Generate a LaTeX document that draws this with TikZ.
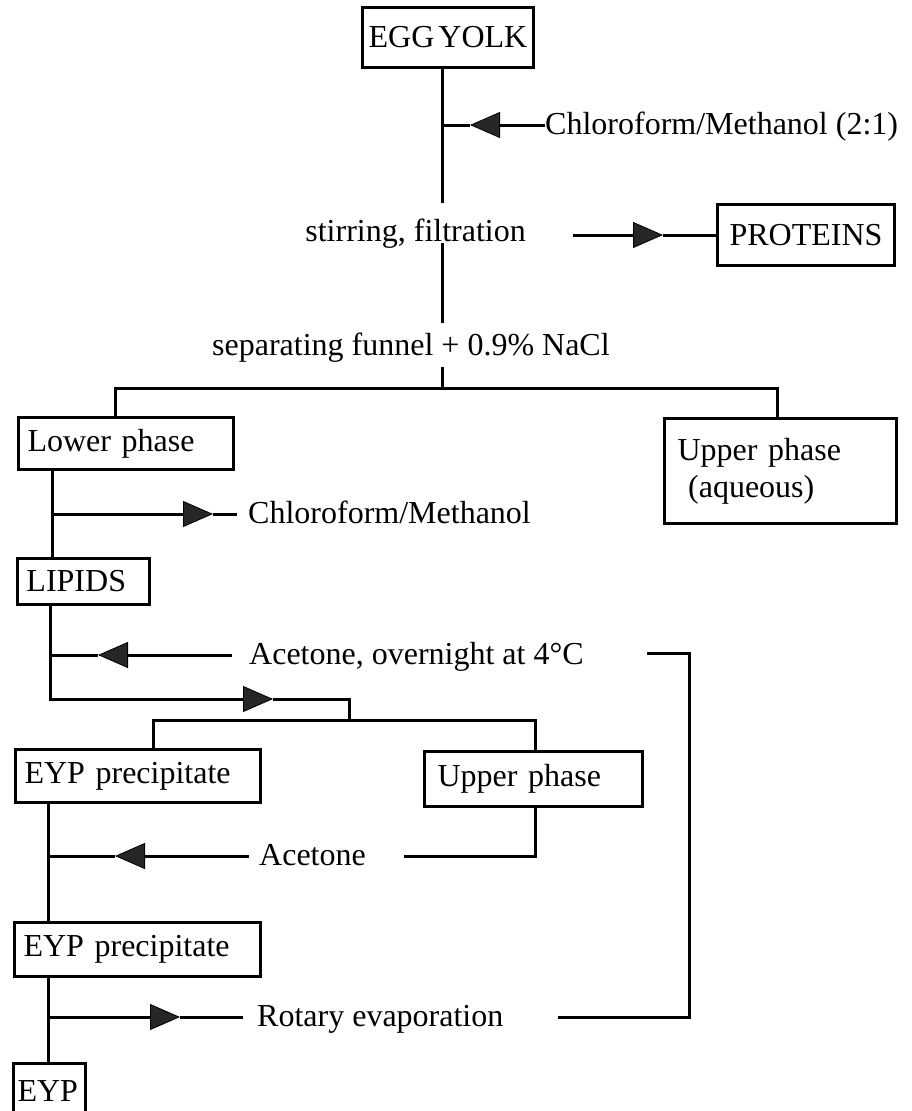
\documentclass[tikz,border=0pt]{standalone}
\usepackage{fontspec}
\setmainfont{Liberation Serif}
\usetikzlibrary{arrows.meta}

\begin{document}
\begin{tikzpicture}[x=1pt,y=-1pt,
    every node/.style={font=\fontsize{32}{37}\selectfont},
    box/.style={draw,line width=3pt,anchor=north west,inner xsep=9pt,inner ysep=0pt,align=left},
    lbl/.style={inner sep=0pt,text height=23pt,text depth=5pt},
    flow/.style={line width=3pt},
    tri/.style={flow,-{Triangle[length=30pt,width=26pt,line width=0.8pt,fill=black!85]}}]
    \useasboundingbox (0,0) rectangle (912,1111);
    \clip (0,0) rectangle (912,1111);

    \node[box,inner xsep=0pt,minimum width=171pt,minimum height=60pt] (yolk) at (361,6) {EGG\hspace{4pt}YOLK};
    \node[box,inner xsep=0pt,minimum width=177pt,minimum height=61pt] (prot) at (716,203) {PROTEINS};
    \node[box,text width=197pt,minimum height=52pt] (lower) at (17,416) {Lower phase};
    \node[box,inner xsep=13pt,text width=206pt,minimum height=105pt] (aq) at (663,417) {Upper phase\\\ (aqueous)};
    \node[box,text width=114pt,minimum height=46pt] (lip) at (16,557) {LIPIDS};
    \node[box,text width=227pt,minimum height=53pt] (eyp1) at (14,748) {EYP precipitate};
    \node[box,inner xsep=13pt,text width=192pt,minimum height=55pt] (up2) at (423,750) {Upper phase};
    \node[box,text width=228pt,minimum height=54pt] (eyp2) at (13,921) {EYP precipitate};
    \node[box,inner xsep=4pt,text width=64pt,minimum height=56pt] (eyp) at (12,1062) {EYP};

    \node[lbl,anchor=west] (chl) at (545,125) {Chloroform/Methanol (2:1)};
    \node[lbl,anchor=east] (stir) at (526,232) {stirring, filtration};
    \node[lbl,anchor=west] (sep) at (212,346) {separating funnel + 0.9\% NaCl};
    \node[lbl,anchor=west] (chm) at (248,514) {Chloroform/Methanol};
    \node[lbl,anchor=west] (ace) at (249,655) {Acetone, overnight at 4\textdegree C};
    \node[lbl,anchor=west] (ace2) at (259,856) {Acetone};
    \node[lbl,anchor=west] (rot) at (257,1017) {Rotary evaporation};

    \coordinate (a1) at (442,125);
    \coordinate (a2) at (442,203);
    \coordinate (a3) at (442,243);
    \coordinate (a4) at (442,323);
    \coordinate (a5) at (442,367);
    \coordinate (j1) at (115,388);
    \coordinate (j2) at (777,388);
    \draw[flow] (yolk.south -| a1) -- (a2);
    \draw[tri] (chl.west) -- ++(-75,0) coordinate (t1);
    \draw[flow] (t1) -- (a1);
    \draw[flow] (a3) -- (a4);
    \draw[flow] (a5) -- (a5 |- j1);
    \coordinate (p0) at ([xshift=-143pt]prot.west);
    \draw[tri] (p0) -- ++(90,0) coordinate (t2);
    \draw[flow] (t2) -- (prot.west);
    \draw[flow] (lower.north -| j1) -- (j1) -- (j2) -- (aq.north -| j2);

    \coordinate (k1) at (52,514);
    \draw[flow] (lower.south -| k1) -- (lip.north -| k1);
    \draw[tri] (k1) -- ++(161,0) coordinate (t3);
    \draw[flow] (t3) -- ([xshift=-11pt]chm.west);

    \coordinate (m1) at (50,655);
    \coordinate (m2) at (50,699);
    \coordinate (n0) at (349,720);
    \coordinate (n1) at (153,720);
    \coordinate (n2) at (535,720);
    \draw[tri] ([xshift=-17pt]ace.west) -- ([xshift=48pt]m1) coordinate (t4);
    \draw[flow] (t4) -- (m1);
    \draw[tri] (lip.south -| m1) -- (m2) -- ++(223,0) coordinate (t5);
    \draw[flow] (t5) -- (t5 -| n0) -- (n0);
    \draw[flow] (eyp1.north -| n1) -- (n1) -- (n2) -- (up2.north -| n2);

    \coordinate (q1) at (48,856);
    \coordinate (r1) at (404,856);
    \draw[flow] (eyp1.south -| q1) -- (eyp2.north -| q1);
    \draw[tri] ([xshift=-10pt]ace2.west) -- ([xshift=67pt]q1) coordinate (t6);
    \draw[flow] (t6) -- (q1);
    \draw[flow] (up2.south -| n2) -- (r1 -| n2) -- (r1);

    \coordinate (u1) at (48,1017);
    \coordinate (v1) at (558,1017);
    \coordinate (v2) at (689,653);
    \draw[flow] (eyp2.south -| u1) -- (eyp.north -| u1);
    \draw[tri] (u1) -- ++(132,0) coordinate (t7);
    \draw[flow] (t7) -- ([xshift=-14pt]rot.west);
    \draw[flow] (v1) -- (v1 -| v2) -- (v2) -- ++(-42,0);
\end{tikzpicture}
\end{document}
